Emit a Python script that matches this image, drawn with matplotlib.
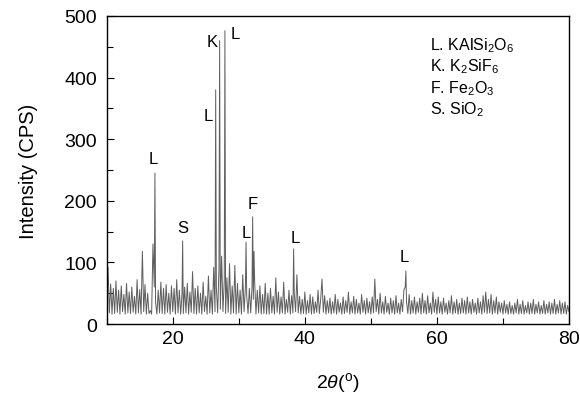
import numpy as np
import matplotlib
matplotlib.use("Agg")
import matplotlib.pyplot as plt
from matplotlib.ticker import MultipleLocator

plt.rcParams['font.family'] = ['Liberation Sans', 'DejaVu Sans']
plt.rcParams['mathtext.fontset'] = 'custom'
plt.rcParams['mathtext.rm'] = 'Liberation Sans'
plt.rcParams['mathtext.it'] = 'Liberation Sans:italic'

# background pattern, 0.2 degree steps from 10.0 to 80.0
bg_start = 10.0
bg_step = 0.2
bg_counts = [
    40, 92, 18, 65, 16, 58, 17, 70, 19, 55,
    16, 62, 20, 48, 16, 66, 18, 52, 17, 60,
    19, 45, 16, 72, 18, 56, 16, 118, 20, 64,
    16, 50, 17, 22, 16, 130, 60, 35, 16, 55,
    18, 68, 17, 58, 16, 64, 19, 50, 16, 62,
    20, 58, 16, 72, 18, 55, 16, 48, 17, 60,
    18, 66, 16, 52, 19, 85, 17, 58, 16, 62,
    18, 50, 16, 68, 20, 45, 16, 78, 18, 55,
    16, 92, 20, 60, 18, 90, 24, 110, 20, 70,
    17, 75, 19, 98, 16, 62, 18, 95, 16, 66,
    18, 55, 16, 80, 20, 60, 45, 17, 58, 18,
    60, 40, 70, 16, 55, 18, 62, 16, 48, 17,
    66, 16, 50, 16, 58, 18, 45, 16, 75, 19,
    52, 16, 44, 18, 68, 16, 40, 19, 55, 16,
    46, 18, 50, 20, 80, 18, 45, 16, 40, 17,
    52, 16, 38, 18, 48, 16, 44, 17, 36, 19,
    55, 17, 40, 73, 19, 46, 16, 38, 18, 42,
    16, 36, 18, 48, 16, 40, 19, 34, 16, 44,
    17, 38, 19, 52, 16, 36, 18, 45, 16, 40,
    18, 34, 16, 48, 19, 38, 16, 42, 18, 36,
    16, 44, 18, 73, 20, 40, 16, 50, 18, 36,
    16, 45, 19, 34, 16, 42, 18, 38, 16, 46,
    18, 34, 16, 40, 20, 55, 60, 36, 17, 48,
    16, 38, 18, 44, 16, 36, 19, 42, 16, 50,
    18, 38, 16, 46, 18, 34, 16, 52, 19, 40,
    16, 44, 18, 36, 16, 42, 19, 34, 16, 38,
    18, 46, 16, 36, 18, 40, 16, 34, 17, 42,
    18, 38, 16, 44, 18, 36, 16, 40, 19, 34,
    16, 42, 18, 36, 16, 46, 19, 52, 17, 40,
    18, 48, 16, 38, 18, 44, 16, 36, 19, 34,
    16, 38, 18, 32, 16, 36, 17, 30, 16, 34,
    18, 40, 16, 32, 17, 38, 16, 30, 18, 36,
    16, 34, 17, 40, 16, 32, 18, 36, 16, 30,
    17, 38, 16, 32, 18, 36, 16, 34, 17, 40,
    16, 32, 18, 38, 16, 34, 17, 36, 16, 30,
    20,
]

# diffraction peaks
peak_angles = [17.3, 21.5, 26.5, 27.1, 27.9, 31.1, 32.1, 32.3, 38.3, 55.3]
peak_counts = [245, 135, 380, 460, 476, 133, 174, 118, 122, 86]

# peak labels
label_text = ['L', 'S', 'K', 'L', 'L', 'L', 'F', 'L', 'L']
label_x = [17.0, 21.5, 25.9, 29.4, 25.3, 31.1, 32.1, 38.5, 55.0]
label_y = [268, 157, 459, 471, 338, 149, 195, 141, 109]

legend_lines = ['L. KAlSi$_2$O$_6$', 'K. K$_2$SiF$_6$', 'F. Fe$_2$O$_3$', 'S. SiO$_2$']

bg_angles = bg_start + bg_step * np.arange(len(bg_counts))
angles = np.concatenate([bg_angles, peak_angles])
counts = np.concatenate([bg_counts, peak_counts]).astype(float)
order = np.argsort(angles)
angles = angles[order]
counts = counts[order]

fig = plt.figure(figsize=(5.8, 4.02), dpi=100)
ax = fig.add_axes([0.184, 0.1915, 0.797, 0.7665])
ax.plot(angles, counts, color='#5e5e5e', lw=0.7)

ax.set_xlim(10, 80)
ax.set_ylim(0, 500)
ax.xaxis.set_major_locator(MultipleLocator(20))
ax.xaxis.set_minor_locator(MultipleLocator(10))
ax.yaxis.set_major_locator(MultipleLocator(100))
ax.yaxis.set_minor_locator(MultipleLocator(50))
ax.tick_params(which='both', direction='in', top=False, right=False, width=0.8)
ax.tick_params(which='major', length=5)
ax.tick_params(which='minor', length=4)
ax.tick_params(axis='x', labelsize=14, pad=4)
ax.tick_params(axis='y', labelsize=14, pad=7)
for s in ax.spines.values():
    s.set_linewidth(1.0)

ax.set_xlabel('2$\\it{\\theta}$($^{\\mathrm{o}}$)', fontsize=14, labelpad=17)
ax.set_ylabel('Intensity (CPS)', fontsize=14.5, labelpad=19)

for t, x, y in zip(label_text, label_x, label_y):
    ax.text(x, y, t, fontsize=12, ha='center', va='center')

for i, t in enumerate(legend_lines):
    ax.text(58.9, 454 - i * 35, t, fontsize=11.5, ha='left', va='center')

fig.savefig('out.png', dpi=100)
